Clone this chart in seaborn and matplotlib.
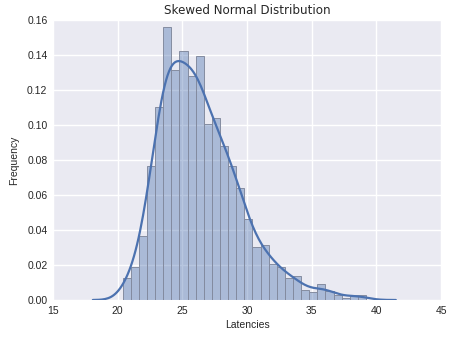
import numpy as np
import pandas as pd
import matplotlib
matplotlib.use("Agg")
import matplotlib.pyplot as plt
import seaborn as sns

# Histogram bin edges (left edge of first bin, width) and density heights
bin_start = 20.39
bin_width = 0.627
heights = [0.0128, 0.0189, 0.0366, 0.0768, 0.1103, 0.1558, 0.1314, 0.1423, 0.1280, 0.1396,
           0.1006, 0.1040, 0.0880, 0.0768, 0.0642, 0.0463, 0.0305, 0.0314, 0.0208, 0.0187,
           0.0128, 0.0139, 0.0057, 0.0046, 0.0093, 0.0051, 0.0029, 0.0013, 0.0029, 0.0029]
x_ticks = [15, 20, 25, 30, 35, 40, 45]
y_ticks = [0.00, 0.02, 0.04, 0.06, 0.08, 0.10, 0.12, 0.14, 0.16]

n = len(heights)
centers = bin_start + bin_width * (np.arange(n) + 0.5)
df = pd.DataFrame({"latency": centers, "density": heights})

sns.set_theme(style="darkgrid")
plt.rcParams['font.family'] = ['Liberation Sans', 'DejaVu Sans']

fig = plt.figure(figsize=(4.55, 3.4), dpi=100)
ax = fig.add_axes([53/455, 40/340, 388/455, 280/340])

blue = "#4C72B0"
sns.histplot(data=df, x="latency", weights="density", binwidth=bin_width,
             binrange=(bin_start, bin_start + bin_width * n), stat="count", ax=ax,
             color=blue, alpha=0.4, edgecolor="#848ca0", linewidth=0.7)
sns.kdeplot(data=df, x="latency", weights="density", bw_method=0.25, cut=1.9, ax=ax,
            color=blue, linewidth=1.6)

ax.set_xlim(15, 45)
ax.set_ylim(0, 0.16)
ax.set_xticks(x_ticks)
ax.set_yticks(y_ticks)
ax.set_xticklabels([str(t) for t in x_ticks], fontsize=7.5, color="#262626")
ax.set_yticklabels([f"{t:.2f}" for t in y_ticks], fontsize=7.5, color="#262626")
ax.tick_params(length=0, pad=4)
ax.set_xlabel("Latencies", fontsize=7.5, color="#262626", labelpad=3)
ax.set_ylabel("Frequency", fontsize=7.5, color="#262626", labelpad=6)
ax.set_title("Skewed Normal Distribution", fontsize=8.6, color="#262626", pad=4,
             family="DejaVu Sans")
for s in ax.spines.values():
    s.set_visible(False)

fig.savefig("out.png", dpi=100)
